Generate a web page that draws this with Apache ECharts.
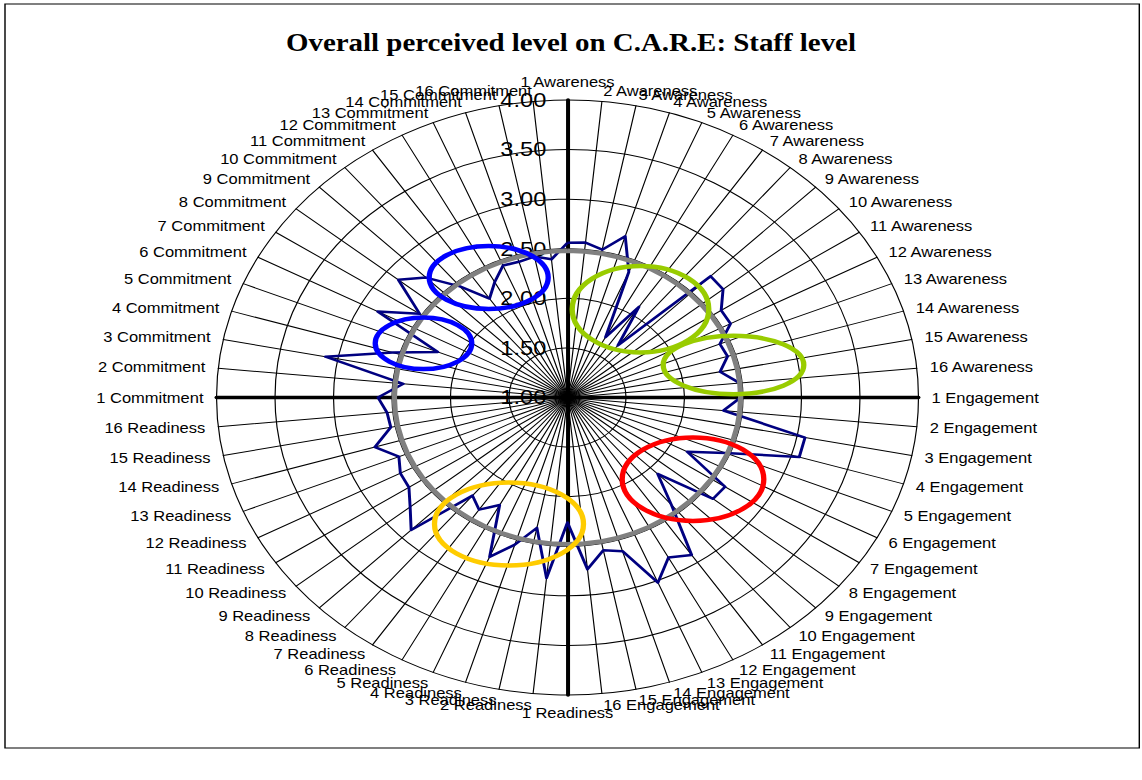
<!DOCTYPE html>
<html><head><meta charset="utf-8">
<script src="https://cdn.jsdelivr.net/npm/echarts@6/dist/echarts.min.js"></script>
<style>
html,body{margin:0;padding:0;background:#fff;width:1142px;height:780px;overflow:hidden;}
#chart{position:absolute;left:0;top:0;width:968px;height:780px;transform:scaleX(1.17975);transform-origin:0 0;}
</style></head><body>
<div id="chart"></div>
<script>
// ---- data ----
const groups = ['Awareness', 'Engagement', 'Readiness', 'Commitment'];
const awareness  = [2.56, 2.57, 2.52, 2.70, 2.37, 1.69, 2.10, 1.68, 2.73, 2.72, 2.58, 2.58, 2.41, 2.43, 2.33, 2.48];
const engagement = [2.48, 2.34, 3.07, 3.07, 2.46, 2.16, 2.62, 2.61, 2.09, 2.40, 2.91, 2.83, 3.02, 2.62, 2.57, 2.74];
const readiness  = [2.26, 2.83, 2.34, 2.55, 2.74, 2.23, 2.36, 2.28, 2.89, 2.74, 2.63, 2.62, 2.56, 2.72, 2.54, 2.55];
const commitment = [2.62, 2.41, 3.11, 2.56, 2.20, 2.84, 2.52, 2.87, 2.71, 2.45, 2.20, 2.32, 2.44, 2.43, 2.45, 2.40];
const overallMean = 2.48;
const axisMin = 1, axisMax = 4, axisStep = 0.5;
const titleText = 'Overall perceived level on C.A.R.E: Staff level';

// ---- layout (reference pixels; the drawing is stretched horizontally by S) ----
const S = 1142 / 968;
const center = [567.5, 397.5];
const radius = 297.5;
// annotation ellipses: [cx, cy, rx, ry, colour]
const annotations = [
  [488.7, 277.5, 59.5, 31.5, '#0000FF'],
  [423.5, 343.3, 48.3, 25.8, '#0000FF'],
  [640.5, 309.2, 68.3, 43.3, '#99CC00'],
  [733.5, 365.0, 70.3, 29.2, '#99CC00'],
  [693.0, 479.2, 70.8, 41.7, '#FF0000'],
  [509.0, 524.0, 74.5, 41.5, '#FFCC00']
];

// ---- build ----
const categories = [];
groups.forEach(g => { for (let i = 1; i <= 16; i++) categories.push(i + ' ' + g); });
const values = awareness.concat(engagement, readiness, commitment);
const n = categories.length;
// ECharts lays indicators out counter-clockwise; reorder so they read clockwise
const order = [0];
for (let k = n - 1; k >= 1; k--) order.push(k);

const indicators = order.map(k => {
  const ind = { name: categories[k], min: axisMin, max: axisMax };
  if (k % 16 === 0) ind.axisLine = { lineStyle: { width: 3.4, color: '#000' } };
  if (k === 0) ind.axisLabel = {
    show: true, margin: 18, fontSize: 20, color: '#000',
    fontFamily: 'Liberation Sans, Arial, sans-serif',
    formatter: v => Number(v).toFixed(2)
  };
  return ind;
});

const chart = echarts.init(document.getElementById('chart'), null, { renderer: 'svg' });
chart.setOption({
  animation: false,
  backgroundColor: '#fff',
  title: {
    text: titleText, left: 'center', top: 25,
    textStyle: { fontFamily: 'Liberation Serif, Times New Roman, serif', fontWeight: 'bold', fontSize: 24.5, color: '#000' }
  },
  radar: {
    center: [center[0] / S, center[1]],
    radius: radius,
    startAngle: 90,
    shape: 'circle',
    splitNumber: (axisMax - axisMin) / axisStep,
    indicator: indicators,
    nameGap: 11,
    axisName: { color: '#000', fontSize: 14, fontFamily: 'Liberation Sans, Arial, sans-serif' },
    axisLine: { lineStyle: { color: '#000', width: 1 } },
    axisTick: { show: false },
    splitLine: { lineStyle: { color: '#000', width: 1 } },
    splitArea: { show: false }
  },
  series: [
    {
      type: 'radar', symbol: 'none', z: 3,
      lineStyle: { color: '#000080', width: 2.5 },
      data: [{ name: 'Staff', value: order.map(k => values[k]) }]
    },
    {
      type: 'radar', symbol: 'none', z: 4,
      lineStyle: { color: '#808080', width: 4.5 },
      data: [{ name: 'Mean', value: order.map(() => overallMean) }]
    }
  ],
  graphic: [
    { type: 'rect', z: 0, silent: true,
      shape: { x: 5 / S, y: 4, width: (1139.3 - 5) / S, height: 744 },
      style: { fill: 'none', stroke: '#000', lineWidth: 1.2 } }
  ].concat(annotations.map(a => ({
    type: 'ellipse', z: 100, silent: true,
    shape: { cx: a[0] / S, cy: a[1], rx: a[2] / S, ry: a[3] },
    style: { fill: 'none', stroke: a[4], lineWidth: 4.5 }
  })))
});
</script>
</body></html>
